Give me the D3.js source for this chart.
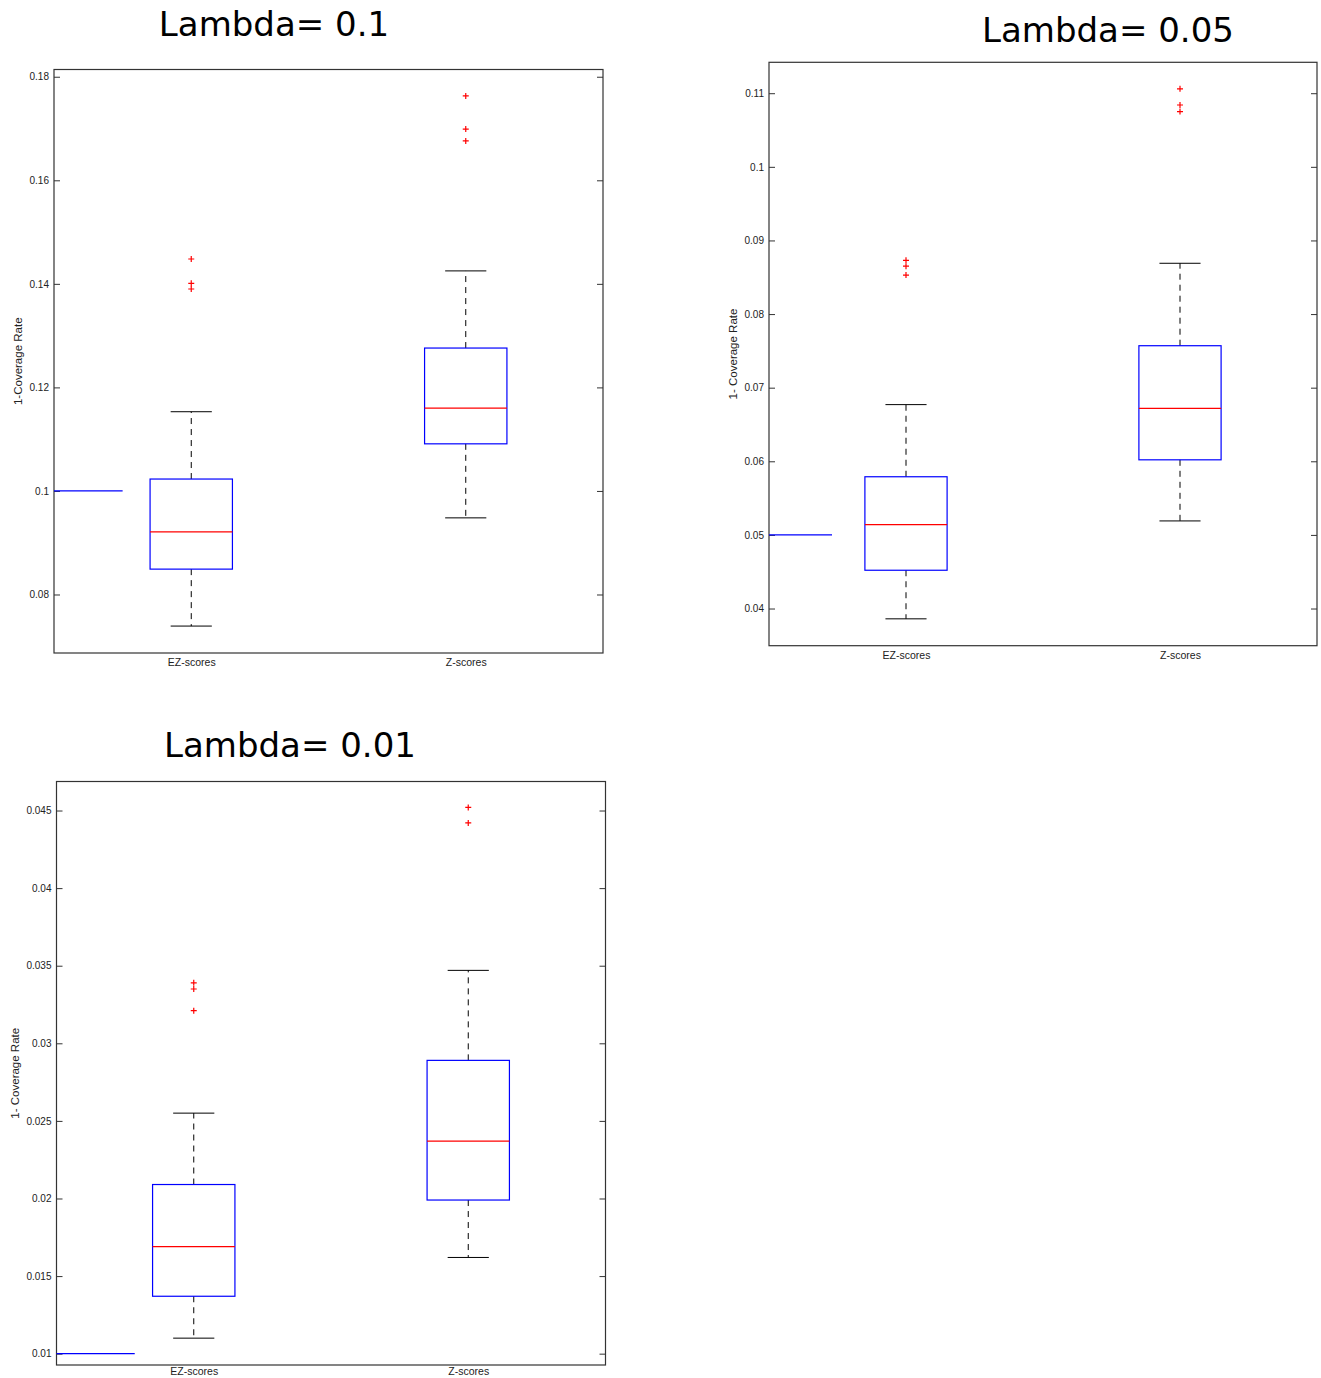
<!DOCTYPE html>
<html>
<head>
<meta charset="utf-8">
<script src="https://cdn.jsdelivr.net/npm/d3@7"></script>
<style>
  html, body { margin: 0; padding: 0; background: #fff; }
  svg { display: block; }
</style>
</head>
<body>
<svg id="chart" width="1321" height="1378"></svg>
<script>
// ---------------- DATA ----------------
const categories = ["EZ-scores", "Z-scores"];
const titles = ["Lambda= 0.1", "Lambda= 0.05", "Lambda= 0.01"];
const yLabels = ["1-Coverage Rate", "1- Coverage Rate", "1- Coverage Rate"];

// nominal level reference line (value, x-extent end in category units)
const nominalLevel = [0.1, 0.05, 0.01];
const nominalEnd = [0.75, 0.73, 0.785];

// box stats: [lower whisker, Q1, median, Q3, upper whisker]
const lambda01EZ = [0.0739, 0.0849, 0.0921, 0.1023, 0.1153];
const lambda01Z  = [0.0948, 0.1091, 0.1160, 0.1276, 0.1425];
const lambda01EZOut = [0.1448, 0.1401, 0.1390];
const lambda01ZOut  = [0.1763, 0.1699, 0.1676];

const lambda005EZ = [0.0386, 0.0452, 0.0514, 0.0579, 0.0677];
const lambda005Z  = [0.0519, 0.0602, 0.0672, 0.0757, 0.0869];
const lambda005EZOut = [0.0873, 0.0865, 0.0853];
const lambda005ZOut  = [0.1106, 0.1084, 0.1075];

const lambda001EZ = [0.0110, 0.0137, 0.0169, 0.0209, 0.0255];
const lambda001Z  = [0.0162, 0.0199, 0.0237, 0.0289, 0.0347];
const lambda001EZOut = [0.0339, 0.0335, 0.0321];
const lambda001ZOut  = [0.0452, 0.0442];

// y-axis tick values
const yTicks01  = [0.08, 0.1, 0.12, 0.14, 0.16, 0.18];
const yTicks005 = [0.04, 0.05, 0.06, 0.07, 0.08, 0.09, 0.1, 0.11];
const yTicks001 = [0.01, 0.015, 0.02, 0.025, 0.03, 0.035, 0.04, 0.045];

// y-axis domains
const yDomain01  = [0.0687, 0.1814];
const yDomain005 = [0.03495, 0.1142];
const yDomain001 = [0.00927, 0.04687];

// ---------------- LAYOUT ----------------
const panels = [
  { title: titles[0], ylabel: yLabels[0], ref: nominalLevel[0], refEnd: nominalEnd[0],
    boxes: [lambda01EZ, lambda01Z], outliers: [lambda01EZOut, lambda01ZOut],
    ticks: yTicks01, domain: yDomain01,
    frame: { x: 54, y: 69.5, w: 549, h: 583.5 }, titleX: 274, titleY: 36, ylabX: 18, catPad: 5.5 },
  { title: titles[1], ylabel: yLabels[1], ref: nominalLevel[1], refEnd: nominalEnd[1],
    boxes: [lambda005EZ, lambda005Z], outliers: [lambda005EZOut, lambda005ZOut],
    ticks: yTicks005, domain: yDomain005,
    frame: { x: 769, y: 62.3, w: 548, h: 583.4 }, titleX: 1108, titleY: 42, ylabX: 733, catPad: 5.5 },
  { title: titles[2], ylabel: yLabels[2], ref: nominalLevel[2], refEnd: nominalEnd[2],
    boxes: [lambda001EZ, lambda001Z], outliers: [lambda001EZOut, lambda001ZOut],
    ticks: yTicks001, domain: yDomain001,
    frame: { x: 56.5, y: 781.5, w: 549, h: 583.5 }, titleX: 290, titleY: 757, ylabX: 15, catPad: 2.5 }
];

const svg = d3.select("#chart");
const tickFont = "'Liberation Sans', Arial, sans-serif";

panels.forEach(p => {
  const f = p.frame;
  const g = svg.append("g").attr("transform", `translate(${f.x},${f.y})`);
  const x = d3.scaleLinear().domain([0.5, 2.5]).range([0, f.w]);
  const y = d3.scaleLinear().domain(p.domain).range([f.h, 0]);

  // title
  svg.append("text")
    .attr("x", p.titleX).attr("y", p.titleY)
    .attr("text-anchor", "middle")
    .style("font-family", "'DejaVu Sans', sans-serif")
    .style("font-size", "34px")
    .attr("fill", "#000")
    .text(p.title);

  // y label
  svg.append("text")
    .attr("transform", `translate(${p.ylabX},${f.y + f.h * 0.5}) rotate(-90)`)
    .attr("text-anchor", "middle")
    .attr("dy", "0.35em")
    .style("font-family", tickFont)
    .style("font-size", "11.5px")
    .attr("fill", "#222")
    .text(p.ylabel);

  // left axis (ticks inward)
  const left = g.append("g")
    .call(d3.axisLeft(y).tickValues(p.ticks).tickFormat(d => String(d))
      .tickSizeInner(-6).tickSizeOuter(0).tickPadding(5));
  left.select(".domain").remove();
  left.selectAll("line").attr("stroke", "#333");
  left.selectAll("text").style("font-family", tickFont).style("font-size", "10px").attr("fill", "#222");

  // right axis (ticks inward, no labels)
  const right = g.append("g").attr("transform", `translate(${f.w},0)`)
    .call(d3.axisRight(y).tickValues(p.ticks).tickFormat("")
      .tickSizeInner(-6).tickSizeOuter(0));
  right.select(".domain").remove();
  right.selectAll("line").attr("stroke", "#333");

  // bottom category labels
  const bottom = g.append("g").attr("transform", `translate(0,${f.h})`)
    .call(d3.axisBottom(x).tickValues([1, 2]).tickFormat((d, i) => categories[i])
      .tickSize(0).tickPadding(p.catPad));
  bottom.select(".domain").remove();
  bottom.selectAll("text").style("font-family", tickFont).style("font-size", "10.5px").attr("fill", "#222");

  // frame
  g.append("rect").attr("x", 0).attr("y", 0).attr("width", f.w).attr("height", f.h)
    .attr("fill", "none").attr("stroke", "#333").attr("stroke-width", 1.2);

  // reference line
  g.append("line")
    .attr("x1", x(0.5)).attr("x2", x(p.refEnd))
    .attr("y1", y(p.ref)).attr("y2", y(p.ref))
    .attr("stroke", "#0000ff").attr("stroke-width", 1.2);

  p.boxes.forEach((s, i) => {
    const cx = x(i + 1);
    const bw = x(1.15) - x(1);
    const cw = x(1.075) - x(1);
    const [lo, q1, med, q3, hi] = s;
    const bg = g.append("g");
    // whiskers
    bg.append("line").attr("x1", cx).attr("x2", cx).attr("y1", y(q3)).attr("y2", y(hi))
      .attr("stroke", "#000").attr("stroke-dasharray", "6,5").attr("stroke-width", 1);
    bg.append("line").attr("x1", cx).attr("x2", cx).attr("y1", y(q1)).attr("y2", y(lo))
      .attr("stroke", "#000").attr("stroke-dasharray", "6,5").attr("stroke-width", 1);
    // caps
    [lo, hi].forEach(v => {
      bg.append("line").attr("x1", cx - cw).attr("x2", cx + cw).attr("y1", y(v)).attr("y2", y(v))
        .attr("stroke", "#000").attr("stroke-width", 1);
    });
    // box
    bg.append("rect").attr("x", cx - bw).attr("width", 2 * bw)
      .attr("y", y(q3)).attr("height", y(q1) - y(q3))
      .attr("fill", "none").attr("stroke", "#0000ff").attr("stroke-width", 1.2);
    // median
    bg.append("line").attr("x1", cx - bw).attr("x2", cx + bw).attr("y1", y(med)).attr("y2", y(med))
      .attr("stroke", "#ff0000").attr("stroke-width", 1.2);
    // outliers
    p.outliers[i].forEach(v => {
      const oy = y(v);
      bg.append("path")
        .attr("d", `M${cx - 3},${oy}H${cx + 3}M${cx},${oy - 3}V${oy + 3}`)
        .attr("stroke", "#ff0000").attr("stroke-width", 1.2).attr("fill", "none");
    });
  });
});
</script>
</body>
</html>
